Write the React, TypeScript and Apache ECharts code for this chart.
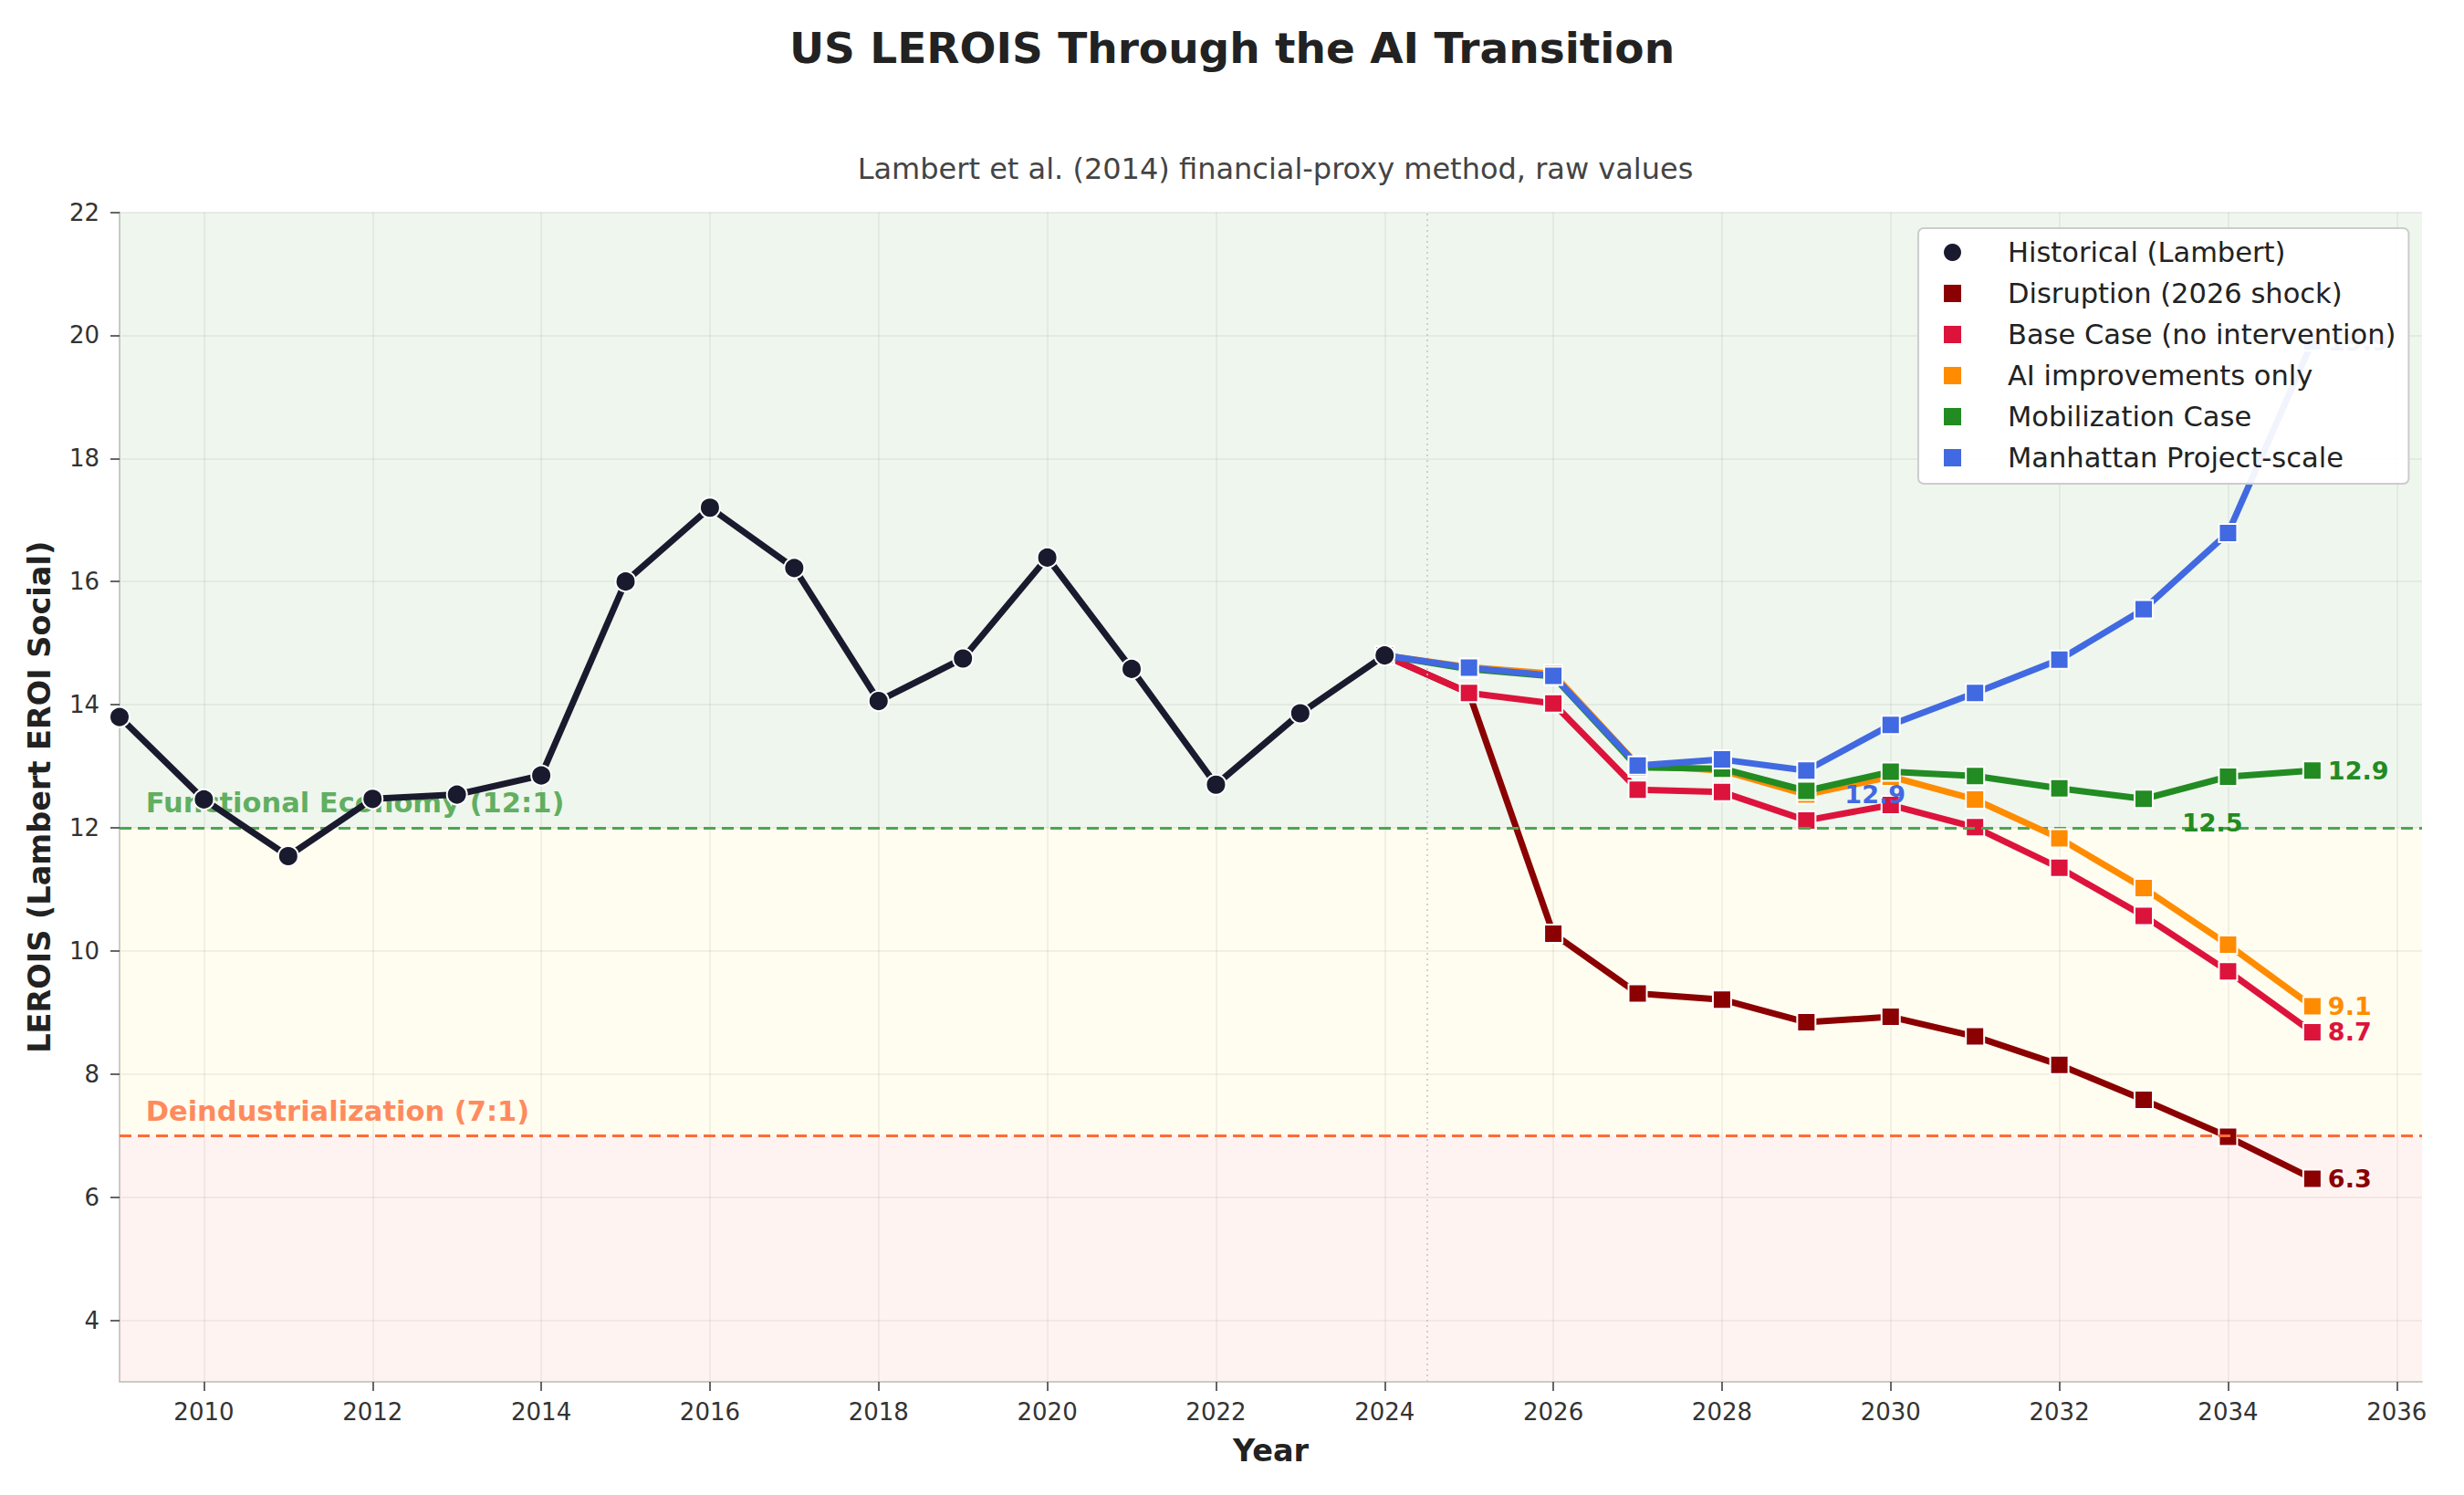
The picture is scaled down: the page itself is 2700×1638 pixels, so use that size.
import React, { useEffect, useRef } from 'react';
import * as echarts from 'echarts';

const FONT = 'DejaVu Sans';

const historicalYears = [2009, 2010, 2011, 2012, 2013, 2014, 2015, 2016, 2017, 2018, 2019, 2020, 2021, 2022, 2023, 2024];
const historicalValues = [13.8, 12.46, 11.54, 12.47, 12.54, 12.85, 16.0, 17.2, 16.22, 14.06, 14.75, 16.39, 14.58, 12.7, 13.86, 14.8];

const scenarioYears = [2024, 2025, 2026, 2027, 2028, 2029, 2030, 2031, 2032, 2033, 2034, 2035];
const disruption = [14.8, 14.19, 10.28, 9.31, 9.21, 8.84, 8.93, 8.61, 8.15, 7.58, 6.98, 6.3];
const baseCase = [14.8, 14.19, 14.02, 12.62, 12.58, 12.12, 12.37, 12.01, 11.35, 10.57, 9.67, 8.68];
const aiOnly = [14.8, 14.61, 14.5, 13.02, 12.93, 12.54, 12.83, 12.46, 11.83, 11.02, 10.1, 9.1];
const mobilization = [14.8, 14.58, 14.46, 12.98, 12.96, 12.6, 12.91, 12.84, 12.64, 12.47, 12.83, 12.93];
const manhattan = [14.8, 14.6, 14.47, 13.01, 13.11, 12.93, 13.67, 14.19, 14.73, 15.55, 16.79, 19.9];

const scenarioNames = [
  'Disruption (2026 shock)',
  'Base Case (no intervention)',
  'AI improvements only',
  'Mobilization Case',
  'Manhattan Project-scale',
];
const scenarioColors = ['#8b0000', '#dc143c', '#ff8c00', '#228b22', '#4169e1'];
const scenarioValues = [disruption, baseCase, aiOnly, mobilization, manhattan];

const xTicks = [2010, 2012, 2014, 2016, 2018, 2020, 2022, 2024, 2026, 2028, 2030, 2032, 2034, 2036];
const yTicks = [4, 6, 8, 10, 12, 14, 16, 18, 20, 22];

const zones = [
  [12, 22, 'rgba(34,139,34,0.08)'],
  [7, 12, 'rgba(255,215,0,0.06)'],
  [3, 7, 'rgba(255,99,71,0.08)'],
];
const thresholds = [12, 7];
const thresholdColors = ['#4fa54f', '#ff6b35'];
const thresholdTextColors = ['#3a9c3a', '#ff6b35'];
const thresholdLabels = ['Functional Economy (12:1)', 'Deindustrialization (7:1)'];
const thresholdLabelAnchors = [[2009.31, 12.4], [2009.31, 7.4]];
const transitionYear = 2024.5;

const GRID_LEFT = 131;
const GRID_WIDTH = 2523;

function buildScenarioData(vals: number[], color: string) {
  const last = vals.length - 1;
  let minIdx = 0;
  vals.forEach((v, i) => { if (v < vals[minIdx]) minIdx = i; });
  return vals.map((v, i) => {
    const item: any = { value: [scenarioYears[i], v] };
    if (i === last) {
      item.label = {
        show: true, position: 'right', distance: 6, formatter: v.toFixed(1),
        color, fontSize: 27, fontWeight: 'bold', fontFamily: FONT, verticalAlign: 'middle', align: 'left',
      };
    } else if (i === minIdx && i > 0 && vals[minIdx] < vals[last]) {
      item.label = {
        show: true, position: 'inside', align: 'left', verticalAlign: 'middle', offset: [42, 26],
        formatter: v.toFixed(1), color, fontSize: 27, fontWeight: 'bold', fontFamily: FONT,
      };
    }
    return item;
  });
}

export default function App() {
  const ref = useRef<HTMLDivElement>(null);
  useEffect(() => {
    document.body.style.margin = '0';
    const chart = echarts.init(ref.current!, null, { renderer: 'svg' });

    const scenarioSeries = scenarioNames.map((name, k) => ({
      name,
      type: 'line',
      z: 3 + k,
      data: buildScenarioData(scenarioValues[k], scenarioColors[k]),
      symbol: 'rect',
      symbolSize: 20,
      lineStyle: { color: scenarioColors[k], width: 7 },
      itemStyle: { color: scenarioColors[k], borderColor: '#ffffff', borderWidth: 2 },
      label: { show: false },
      emphasis: { disabled: true },
    }));

    const option: any = {
      animation: false,
      backgroundColor: '#ffffff',
      title: [
        {
          text: 'US LEROIS Through the AI Transition',
          left: 'center', top: 24,
          textStyle: { fontFamily: FONT, fontSize: 47, fontWeight: 'bold', color: '#222222' },
        },
        {
          text: 'Lambert et al. (2014) financial-proxy method, raw values',
          left: GRID_LEFT + GRID_WIDTH / 2, textAlign: 'center', top: 164,
          textStyle: { fontFamily: FONT, fontSize: 32, fontWeight: 'normal', color: '#444444' },
        },
      ],
      grid: { left: GRID_LEFT, top: 232.5, width: GRID_WIDTH, height: 1281.5, containLabel: false },
      legend: {
        orient: 'vertical',
        left: 2102, top: 250,
        data: [
          { name: 'Historical (Lambert)', icon: 'circle' },
          ...scenarioNames.map((n) => ({ name: n, icon: 'rect' })),
        ],
        itemWidth: 19, itemHeight: 19, itemGap: 14,
        padding: [11, 14, 13, 28],
        backgroundColor: 'rgba(255,255,255,0.93)',
        borderColor: '#cccccc', borderWidth: 2, borderRadius: 6,
        textStyle: { fontFamily: FONT, fontSize: 30.5, color: '#222222', padding: [0, 0, 0, 46] },
        itemStyle: { borderWidth: 0 },
        z: 20,
      },
      xAxis: {
        type: 'value', min: 2009, max: 2036.3,
        name: 'Year', nameLocation: 'middle', nameGap: 58,
        nameTextStyle: { fontFamily: FONT, fontSize: 33.5, fontWeight: 'bold', color: '#222222' },
        axisLine: { show: true, lineStyle: { color: '#cccccc', width: 2 } },
        axisTick: { show: true, customValues: xTicks, length: 10, lineStyle: { color: '#333333', width: 1.5 } },
        axisLabel: {
          customValues: xTicks, margin: 20, fontSize: 26, color: '#333333', fontFamily: FONT,
          formatter: (v: number) => String(v),
        },
        splitLine: { show: true, customValues: xTicks, lineStyle: { color: 'rgba(0,0,0,0.07)', width: 1.5 } },
      },
      yAxis: {
        type: 'value', min: 3, max: 22,
        name: 'LEROIS (Lambert EROI Social)', nameLocation: 'middle', nameGap: 71, nameRotate: 90,
        nameTextStyle: { fontFamily: FONT, fontSize: 33.5, fontWeight: 'bold', color: '#222222' },
        axisLine: { show: true, lineStyle: { color: '#cccccc', width: 2 } },
        axisTick: { show: true, customValues: yTicks, length: 10, lineStyle: { color: '#333333', width: 1.5 } },
        axisLabel: {
          customValues: yTicks, margin: 22, fontSize: 26, color: '#333333', fontFamily: FONT,
          formatter: (v: number) => String(v),
        },
        splitLine: { show: true, customValues: yTicks, lineStyle: { color: 'rgba(0,0,0,0.07)', width: 1.5 } },
      },
      series: [
        {
          name: 'zones',
          type: 'line',
          data: [],
          z: 1,
          silent: true,
          markArea: {
            silent: true,
            data: zones.map((zn) => [
              { yAxis: zn[0], itemStyle: { color: zn[2] } },
              { yAxis: zn[1] },
            ]),
          },
          markLine: {
            silent: true,
            symbol: 'none',
            label: { show: false },
            data: [
              ...thresholds.map((t, i) => ({
                yAxis: t,
                lineStyle: { color: thresholdColors[i], width: 3, type: [13, 7] },
              })),
              { xAxis: transitionYear, lineStyle: { color: '#c4c4c4', width: 1.5, type: [2, 4] } },
            ],
          },
        },
        {
          name: 'thresholdLabels',
          type: 'scatter',
          z: 2,
          silent: true,
          symbolSize: 1,
          itemStyle: { color: 'rgba(0,0,0,0)' },
          data: thresholdLabelAnchors.map((a, i) => ({
            value: a,
            label: {
              show: true, position: 'inside', align: 'left', verticalAlign: 'middle',
              formatter: thresholdLabels[i], color: thresholdTextColors[i],
              fontSize: 30.5, fontWeight: 'bold', fontFamily: FONT,
            },
          })),
        },
        ...scenarioSeries,
        {
          name: 'Historical (Lambert)',
          type: 'line',
          z: 10,
          data: historicalYears.map((y, i) => [y, historicalValues[i]]),
          symbol: 'circle',
          symbolSize: 22,
          lineStyle: { color: '#1a1a2e', width: 7 },
          itemStyle: { color: '#1a1a2e', borderColor: '#ffffff', borderWidth: 2 },
          emphasis: { disabled: true },
        },
      ],
    };
    chart.setOption(option);
    return () => chart.dispose();
  }, []);
  return <div ref={ref} style={{ width: 2700, height: 1638 }} />;
}
